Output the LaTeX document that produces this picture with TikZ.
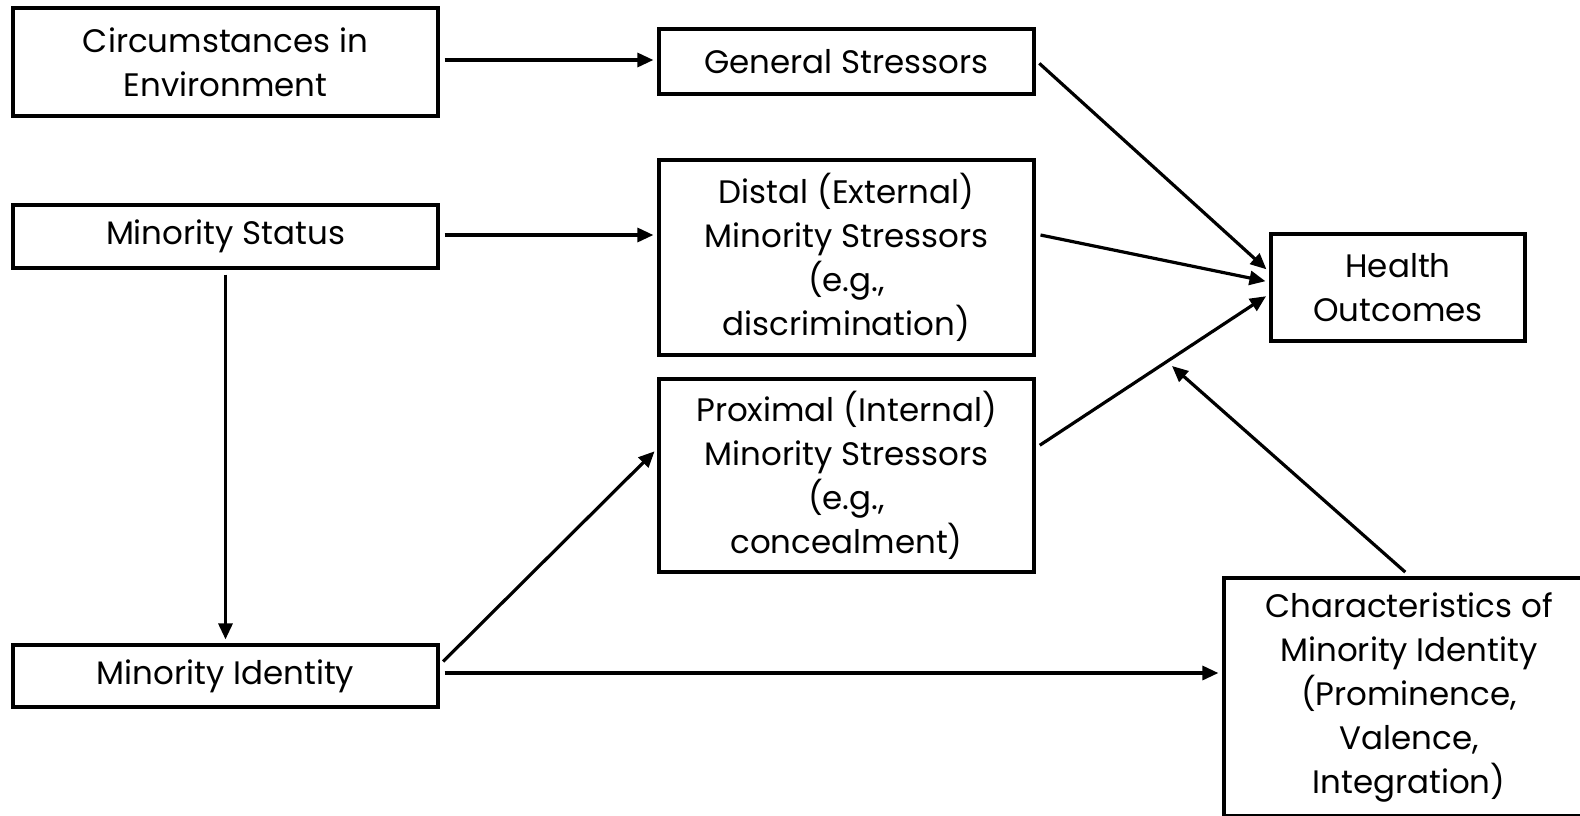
\documentclass[tikz,border=0pt]{standalone}
\usepackage{fontspec}
\setmainfont{Poppins}
\usetikzlibrary{arrows.meta,calc}
\begin{document}
\begin{tikzpicture}[x=1pt,y=-1pt,
  box/.style={draw,line width=3.2pt,align=center,inner sep=0pt,
    font=\fontsize{32.5}{44}\selectfont},
  conn/.style={line width=3.2pt,-{Triangle[length=16pt,width=14pt]},shorten <=5pt,shorten >=4pt}]
\useasboundingbox (0,0) rectangle (1580,815);
\clip (0,0) rectangle (1580,815);
\node[box,minimum width=425pt,minimum height=108pt] (circ) at (225.5,62) {Circumstances in\\Environment};
\node[box,minimum width=375pt,minimum height=65pt] (gen) at (846.5,61.5) {General Stressors};
\node[box,minimum width=425pt,minimum height=63pt] (stat) at (225.5,236.5) {Minority Status};
\node[box,minimum width=375pt,minimum height=195pt] (dist) at (846.5,257.5) {Distal (External)\\Minority Stressors\\(e.g.,\\discrimination)};
\node[box,minimum width=375pt,minimum height=193pt] (prox) at (846.5,475.5) {Proximal (Internal)\\Minority Stressors\\(e.g.,\\concealment)};
\node[box,minimum width=254pt,minimum height=107pt] (health) at (1398,287.5) {Health\\Outcomes};
\node[box,minimum width=425pt,minimum height=62pt] (ident) at (225.5,676) {Minority Identity};
\node[box,minimum width=370pt,minimum height=238pt] (char) at (1409,697) {Characteristics of\\Minority Identity\\(Prominence,\\Valence,\\Integration)};
\draw[conn] ($(circ.east)+(0,-2)$) -- ($(gen.west)+(0,-1.5)$);
\draw[conn] ($(stat.east)+(0,-1.5)$) -- ($(dist.west)+(0,-22.5)$);
\draw[conn] (stat.south) -- (ident.north);
\draw[conn] ($(ident.east)+(0,-11)$) -- ($(prox.west)+(0,-27)$);
\draw[conn] ($(ident.east)+(0,-3)$) -- ($(char.west)+(0,-24)$);
\draw[conn] ($(gen.east)+(0,-1.5)$) -- ($(health.west)+(0,-15.5)$);
\draw[conn] ($(dist.east)+(0,-23.5)$) -- ($(health.west)+(0,-5.5)$);
\draw[conn] ($(prox.east)+(0,-27.5)$) -- ($(health.west)+(0,6.5)$);
\coordinate (midtip) at (1172,366);
\draw[conn,shorten >=0pt] ($(char.north)+(0,-1)$) -- (midtip);
\end{tikzpicture}
\end{document}
